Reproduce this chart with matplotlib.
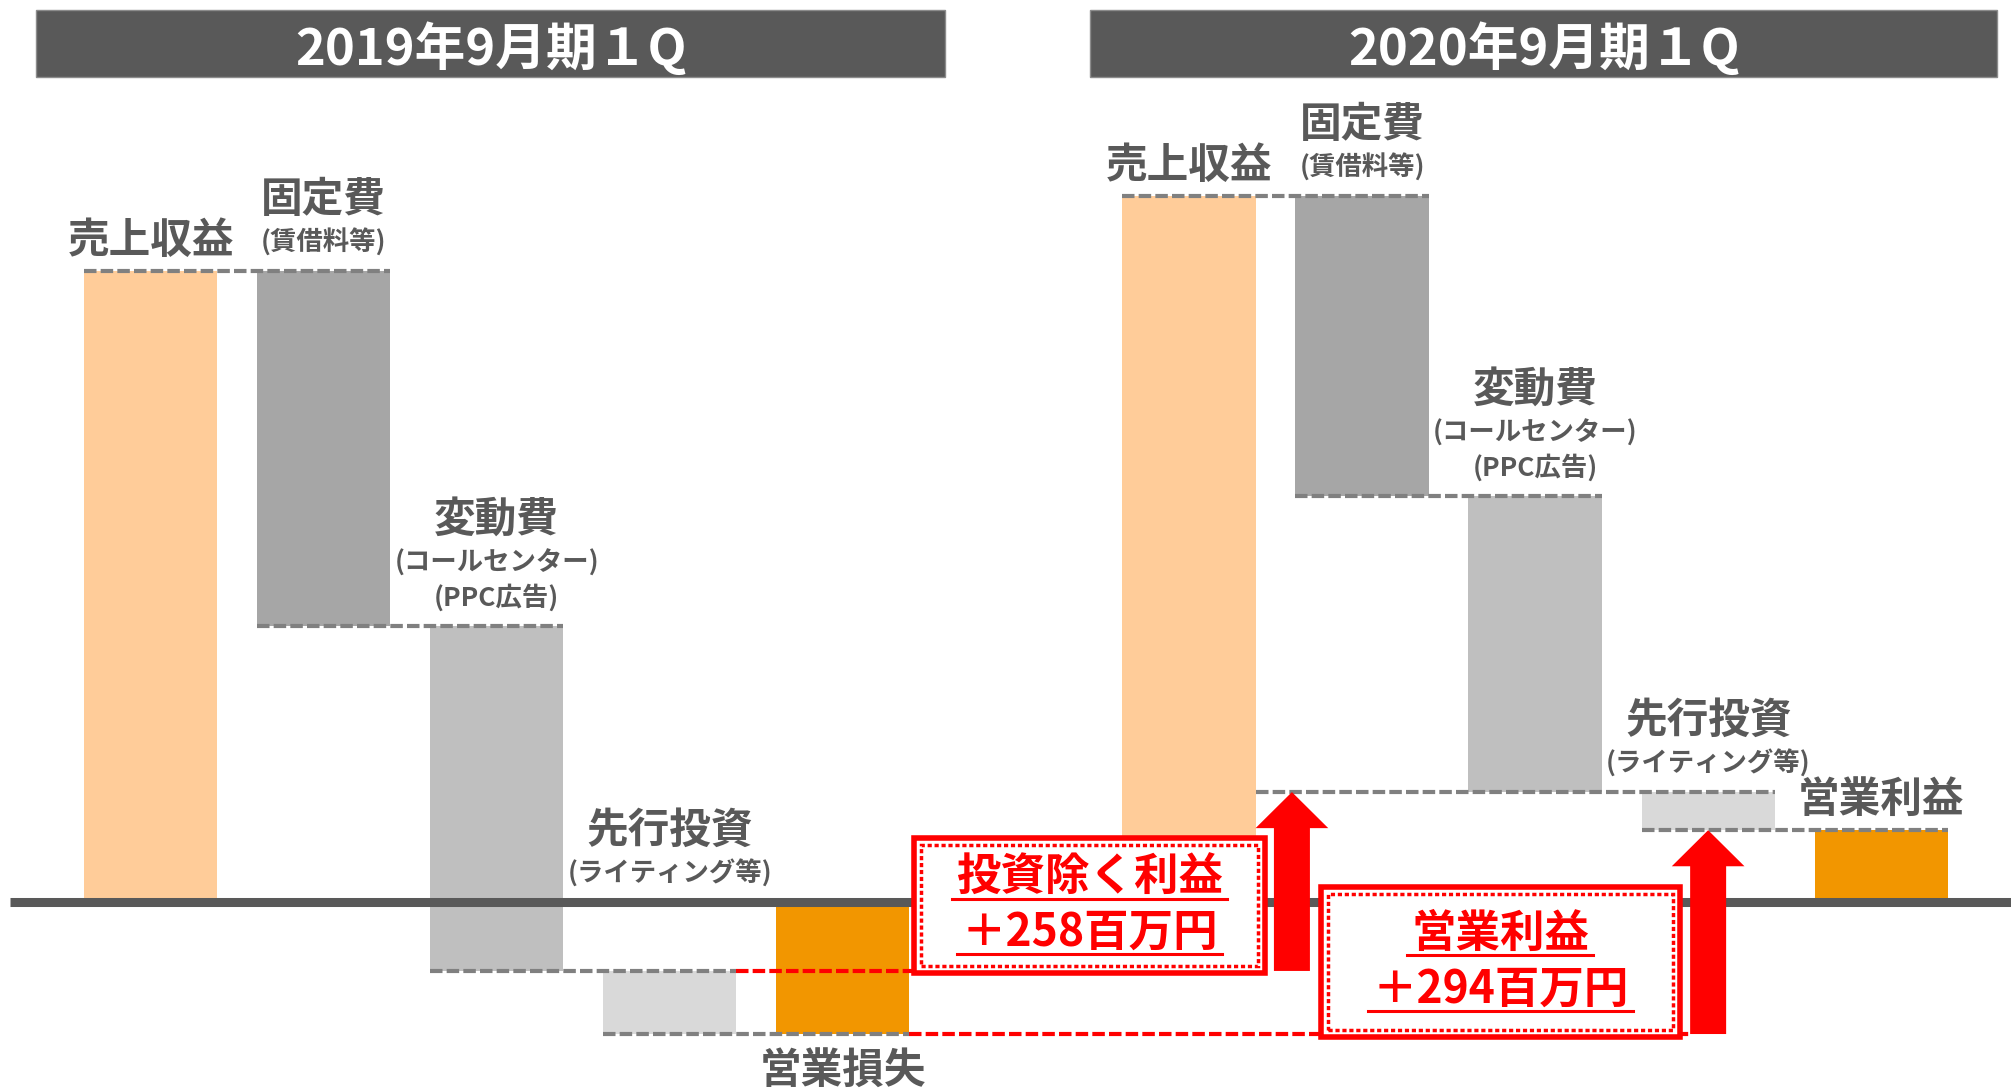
import matplotlib

matplotlib.use("Agg")

import matplotlib.pyplot as plt
from matplotlib.patches import Rectangle, FancyArrow

plt.rcParams["font.family"] = ["Noto Sans CJK JP", "DejaVu Sans"]

# values in 百万円
periods = ["2019年9月期１Q", "2020年9月期１Q"]
revenue = [910, 1018]
fixed_cost = [512, 433]
variable_cost = [498, 427]
upfront_investment = [91, 55]

item_labels = ["売上収益", "固定費", "変動費", "先行投資"]
item_notes = [[], ["(賃借料等)"], ["(コールセンター)", "(PPC広告)"], ["(ライティング等)"]]
result_labels = ["営業損失", "営業利益"]
callout_titles = ["投資除く利益", "営業利益"]

TEXT = "#595959"
RED = "#FF0000"
bar_colors = ["#FFCC99", "#A6A6A6", "#BFBFBF", "#D9D9D9", "#F29600"]
group_start = [0, 6]
header_x = [(-0.66, 4.59), (5.43, 10.67)]
BAR_W = 0.77
PX = 0.72  # points per pixel at 100 dpi

fig = plt.figure(figsize=(20.11, 10.89), dpi=100)
ax = fig.add_axes([0, 0, 1, 1])
ax.set_xlim(-0.87, 10.75)
ax.set_ylim(-270.3, 1300.6)
ax.axis("off")


def bar_label(x, y, main, notes, below=False):
    if below:
        ax.annotate(main, (x, y), xytext=(0, -38 * PX), textcoords="offset points",
                    ha="center", va="center", fontsize=30, fontweight="bold", color=TEXT)
        return
    off = 28 if notes else 30
    for s in reversed(notes):
        ax.annotate(s, (x, y), xytext=(0, off * PX), textcoords="offset points",
                    ha="center", va="center", fontsize=19, fontweight="bold", color=TEXT)
        off += 35
    if notes:
        off += 8
    ax.annotate(main, (x, y), xytext=(0, off * PX), textcoords="offset points",
                ha="center", va="center", fontsize=30, fontweight="bold", color=TEXT)


pre_invest, profit = [], []
for g, x0 in enumerate(group_start):
    r, f, v, i = revenue[g], fixed_cost[g], variable_cost[g], upfront_investment[g]
    pre = r - f - v
    p = pre - i
    pre_invest.append(pre)
    profit.append(p)

    xs = [x0 + k for k in range(5)]
    ax.bar(xs, [r, f, v, i, p], bottom=[0, r - f, pre, p, 0], width=BAR_W,
           color=bar_colors, zorder=2)

    # dashed step connectors between neighbouring bars
    for k, lev in enumerate([r, r - f, pre, p]):
        left = xs[k] - BAR_W / 2
        if g == 1 and k == 2:
            left = xs[0] + BAR_W / 2
        ax.plot([left, xs[k + 1] + BAR_W / 2], [lev, lev], color="#808080",
                lw=3, dashes=(3, 1), zorder=3)

    anchors = [r, r, r - f, max(pre, 0)]
    for k in range(4):
        bar_label(xs[k], anchors[k], item_labels[k], item_notes[k])
    bar_label(xs[4], p, result_labels[g], [], below=p < 0)

    hx0, hx1 = header_x[g]
    ax.add_patch(Rectangle((hx0, 1189.6), hx1 - hx0, 96.4, facecolor="#595959",
                           edgecolor="#8c8c8c", lw=1, zorder=2))
    ax.text((hx0 + hx1) / 2, 1230, periods[g], ha="center", va="center",
            fontsize=36.5, fontweight="bold", color="white", zorder=3)

# zero line
ax.plot([-0.81, 10.75], [0, 0], color="#595959", lw=6.5, zorder=4, solid_capstyle="butt")

# callout boxes
boxes = [(4.41, -103, 2.03, 195), (6.765, -195, 2.07, 216)]
deltas = [pre_invest[1] - pre_invest[0], profit[1] - profit[0]]

SHAFT_W = 0.208
HEAD_W = 0.42
HEAD_L = 52

ax.plot([group_start[0] + 3 + BAR_W / 2, boxes[0][0]], [pre_invest[0]] * 2,
        color=RED, lw=3, dashes=(3, 1), zorder=3)
ax.plot([group_start[0] + 4 + BAR_W / 2, group_start[1] + 3 - SHAFT_W / 2], [profit[0]] * 2,
        color=RED, lw=3, dashes=(3, 1), zorder=3)

arrow_x = [group_start[1] + BAR_W / 2 + HEAD_W / 2, group_start[1] + 3]
arrow_from = [pre_invest[0], profit[0]]
arrow_to = [pre_invest[1], profit[1]]
for ax_x, y0, y1 in zip(arrow_x, arrow_from, arrow_to):
    ax.add_patch(FancyArrow(ax_x, y0, 0, y1 - y0, width=SHAFT_W, head_width=HEAD_W,
                            head_length=HEAD_L, length_includes_head=True,
                            color=RED, lw=0, zorder=6))

callout_texts = []
for (bx, by, bw, bh), title, d in zip(boxes, callout_titles, deltas):
    ax.add_patch(Rectangle((bx, by), bw, bh, facecolor="white", edgecolor=RED,
                           lw=4, zorder=5))
    ax.add_patch(Rectangle((bx + 0.04, by + 10), bw - 0.08, bh - 20, facecolor="none",
                           edgecolor=RED, lw=2.5, linestyle=(0, (1.2, 0.8)), zorder=5))
    cy = by + bh / 2
    for text, yy in [(title, cy + 40), (f"＋{d}百万円", cy - 40)]:
        t = ax.text(bx + bw / 2, yy, text, ha="center", va="center", fontsize=32,
                    fontweight="bold", color=RED, zorder=6)
        callout_texts.append(t)

# underline the callout text
fig.canvas.draw()
renderer = fig.canvas.get_renderer()
inv = ax.transData.inverted()
for t in callout_texts:
    bb = t.get_window_extent(renderer)
    _, cy_disp = ax.transData.transform(t.get_position())
    (ux0, uy), (ux1, _) = inv.transform([[bb.x0 - 4, cy_disp - 21], [bb.x1 + 4, cy_disp - 21]])
    ax.plot([ux0, ux1], [uy, uy], color=RED, lw=2.2, zorder=6)

fig.savefig("out.png", dpi=100, facecolor="white")
